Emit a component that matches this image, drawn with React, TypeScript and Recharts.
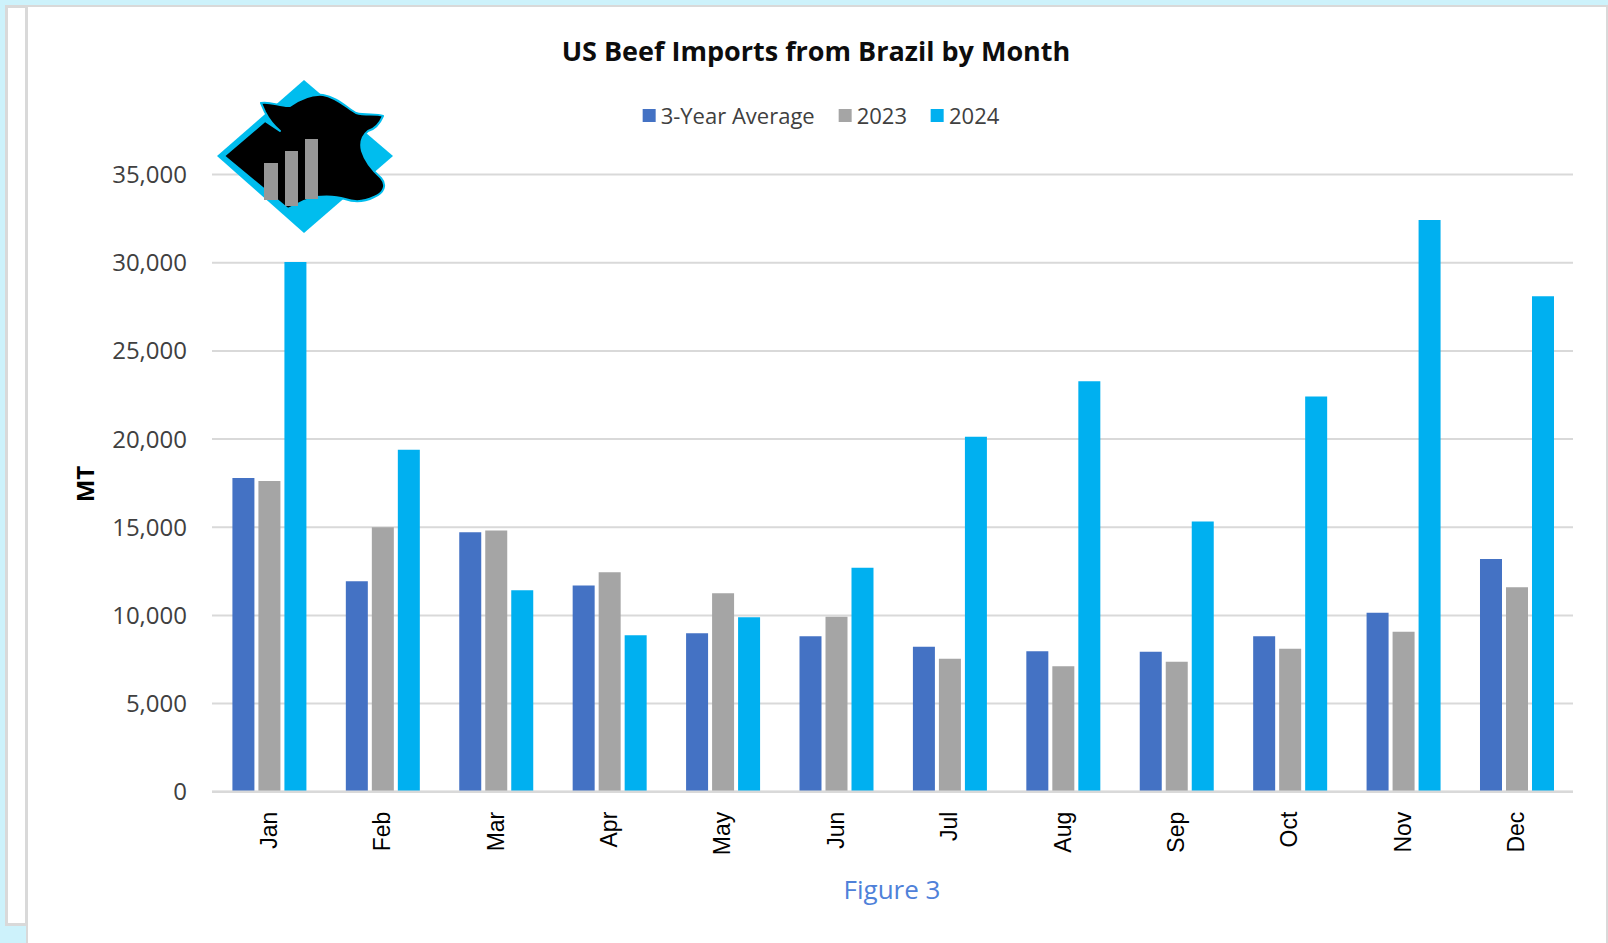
import React from "react";
import { BarChart, Bar, XAxis, YAxis, CartesianGrid } from "recharts";

// values (MT)
const months = ["Jan", "Feb", "Mar", "Apr", "May", "Jun", "Jul", "Aug", "Sep", "Oct", "Nov", "Dec"];
const avg3Year = [17790, 11930, 14710, 11700, 8980, 8810, 8220, 7960, 7940, 8810, 10150, 13200];
const imports2023 = [17620, 15000, 14820, 12440, 11250, 9920, 7540, 7110, 7370, 8110, 9070, 11590];
const imports2024 = [30050, 19390, 11420, 8880, 9900, 12700, 20130, 23280, 15320, 22420, 32420, 28100];
const yTicks = [0, 5000, 10000, 15000, 20000, 25000, 30000, 35000];

const series = [
  { key: "avg", name: "3-Year Average", color: "#4472C4" },
  { key: "y2023", name: "2023", color: "#A5A5A5" },
  { key: "y2024", name: "2024", color: "#00B0F0" },
];

const chartData = months.map((month, i) => ({
  month,
  avg: avg3Year[i],
  y2023: imports2023[i],
  y2024: imports2024[i],
}));

const FONT = "'Open Sans', 'DejaVu Sans', sans-serif";

function MonthTick(props: any) {
  const { x, y, payload } = props;
  const ty = y + 18;
  return (
    <text
      x={x}
      y={ty}
      transform={`rotate(-90, ${x}, ${ty})`}
      textAnchor="end"
      dominantBaseline="central"
      fill="#000"
      fontSize={23}
      fontFamily="'Liberation Sans', Arial, sans-serif"
    >
      {payload.value}
    </text>
  );
}

// cow-head badge in the top-left corner
function Logo() {
  return (
    <svg
      width={1608}
      height={943}
      style={{ position: "absolute", left: 0, top: 0, pointerEvents: "none" }}
    >
      <path d="M217,156 L304,80 L393,156 L304,233 Z" fill="#00BDEE" />
      <path
        d="M224,156 L265,121 L280,131 C274,126 268,118 265,112 L261,103 C270,101 281,107 290,106 C300,99 312,94 323,95 C336,97 346,107 356,113 C366,116 376,113 383,116 C380,123 375,129 368,131 C362,136 360,143 362,151 C365,161 372,170 381,178 C387,185 384,193 374,197 C366,201 356,203 345,199 C336,196 326,196 316,197 L304,201 L288,209 Z"
        fill="#000"
        stroke="#00BDEE"
        strokeWidth={2}
        strokeLinejoin="round"
      />
      <rect x={264} y={163} width={14} height={37} fill="#979797" />
      <rect x={285} y={151} width={13} height={55} fill="#979797" />
      <rect x={305} y={139} width={13} height={60} fill="#979797" />
    </svg>
  );
}

export default function App() {
  return (
    <div
      style={{
        position: "absolute",
        left: 0,
        top: 0,
        width: 1608,
        height: 943,
        background: "#cdf2fb",
        overflow: "hidden",
        fontFamily: FONT,
      }}
    >
      {/* side strip */}
      <div
        style={{
          position: "absolute",
          left: 5,
          top: 5,
          width: 23,
          height: 921,
          background: "#fff",
          border: "3px solid #d9d9d9",
          boxSizing: "border-box",
        }}
      />
      {/* main panel */}
      <div
        style={{
          position: "absolute",
          left: 26,
          top: 5,
          width: 1582,
          height: 940,
          background: "#fff",
          borderLeft: "2px solid #d9d9d9",
          borderTop: "2px solid #d9d9d9",
          borderRight: "2px solid #d9d9d9",
          boxSizing: "border-box",
        }}
      />

      <div style={{ position: "absolute", left: 0, top: 0 }}>
        <BarChart
          width={1608}
          height={943}
          data={chartData}
          margin={{ top: 174.6, right: 35, left: 92, bottom: 91.3 }}
          barCategoryGap="18%"
          barGap={4}
        >
          <CartesianGrid vertical={false} stroke="#d9d9d9" strokeWidth={2} />
          <XAxis
            dataKey="month"
            height={60}
            tickLine={false}
            tickSize={0}
            axisLine={{ stroke: "#d9d9d9", strokeWidth: 2.5 }}
            tick={<MonthTick />}
            interval={0}
          />
          <YAxis
            width={120}
            domain={[0, 35000]}
            ticks={yTicks}
            tickLine={false}
            axisLine={false}
            tickMargin={19}
            tickFormatter={(v: number) => v.toLocaleString("en-US")}
            tick={{ fill: "#404040", fontSize: 24, fontFamily: FONT }}
          />
          {series.map((s) => (
            <Bar key={s.key} dataKey={s.key} name={s.name} fill={s.color} isAnimationActive={false} />
          ))}
        </BarChart>
      </div>

      <Logo />

      {/* title */}
      <div
        style={{
          position: "absolute",
          left: 816,
          top: 50,
          transform: "translate(-50%, -50%)",
          whiteSpace: "nowrap",
          fontSize: 27,
          fontWeight: 700,
          color: "#0d0d0d",
        }}
      >
        US Beef Imports from Brazil by Month
      </div>

      {/* legend */}
      <div
        style={{
          position: "absolute",
          left: 821,
          top: 115,
          transform: "translate(-50%, -50%)",
          display: "flex",
          alignItems: "center",
          gap: 24,
          whiteSpace: "nowrap",
          fontSize: 22,
          color: "#404040",
        }}
      >
        {series.map((s) => (
          <div key={s.key} style={{ display: "flex", alignItems: "center", gap: 5 }}>
            <span style={{ width: 13, height: 13, background: s.color, display: "inline-block" }} />
            <span>{s.name}</span>
          </div>
        ))}
      </div>

      {/* y-axis title */}
      <div
        style={{
          position: "absolute",
          left: 84,
          top: 484,
          transform: "translate(-50%, -50%) rotate(-90deg)",
          fontSize: 24,
          fontWeight: 700,
          color: "#000",
        }}
      >
        MT
      </div>

      {/* caption */}
      <div
        style={{
          position: "absolute",
          left: 892,
          top: 889,
          transform: "translate(-50%, -50%)",
          whiteSpace: "nowrap",
          fontSize: 26,
          color: "#4f81d9",
        }}
      >
        Figure 3
      </div>
    </div>
  );
}
